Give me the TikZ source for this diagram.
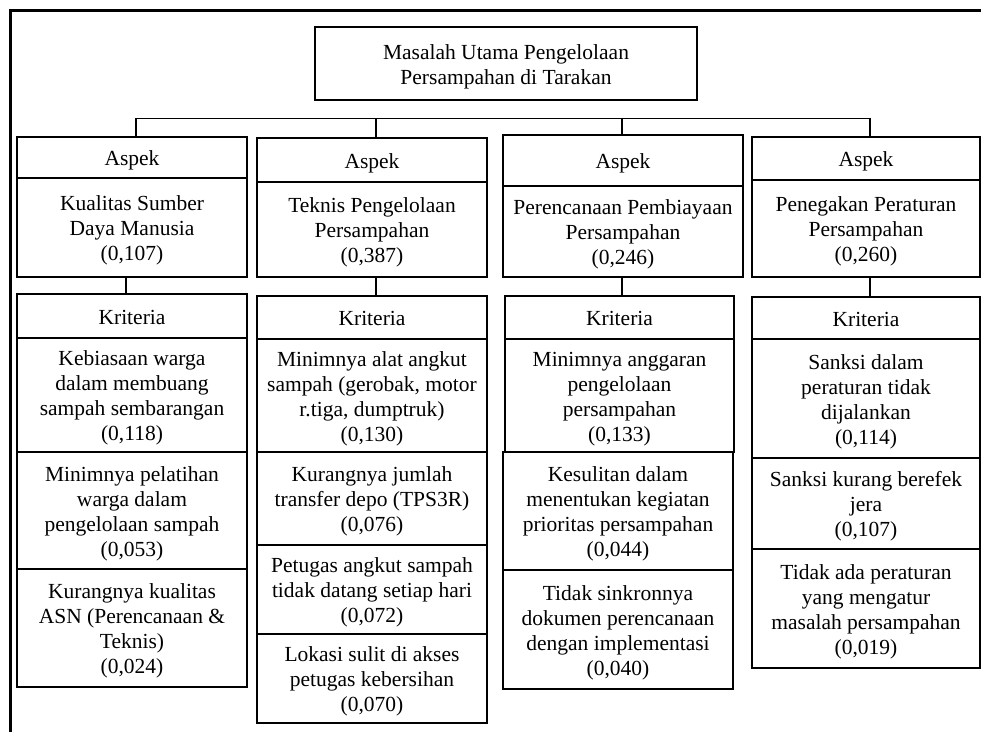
\documentclass[tikz,border=0pt]{standalone}
\usepackage{fontspec}
\setmainfont{Liberation Serif}
\newcommand\cellfont{\fontsize{21.5pt}{25pt}\selectfont}
\newcommand\tx[1]{\raisebox{-3pt}[\height][\depth]{\begin{tabular}{@{}c@{}}#1\end{tabular}}}
\tikzset{
  cell/.style={draw, line width=1.3pt, inner sep=0pt, font=\cellfont},
  link/.style={line width=1.3pt},
  frame/.style={line width=3pt}
}
\newcommand\cellbox[6]{\node[cell, minimum width={#4pt-#2pt}, minimum height={#5pt-#3pt}] (#1) at ({(#2+#4)/2},{(#3+#5)/2}) {\tx{#6}};}
\begin{document}
\begin{tikzpicture}[x=1pt,y=-1pt]
\useasboundingbox (0,0) rectangle (981,732);
% frame (top and left edges)
\coordinate (fa) at (10.5,732);
\coordinate (fb) at (10.5,10.5);
\coordinate (fc) at (981,10.5);
\draw[frame] (fa) -- (fb) -- (fc);
% title
\cellbox{title}{315}{27}{697}{100}{Masalah Utama Pengelolaan\\Persampahan di Tarakan}
% aspect boxes
\cellbox{a1h}{17}{137}{247}{178}{Aspek}
\cellbox{a1b}{17}{178}{247}{277}{Kualitas Sumber\\Daya Manusia\\(0,107)}
\cellbox{a2h}{257}{138}{487}{182}{Aspek}
\cellbox{a2b}{257}{182}{487}{277}{Teknis Pengelolaan\\Persampahan\\(0,387)}
\cellbox{a3h}{503}{135}{743}{186}{Aspek}
\cellbox{a3b}{503}{186}{743}{277}{Perencanaan Pembiayaan\\Persampahan\\(0,246)}
\cellbox{a4h}{752}{137}{980}{180}{Aspek}
\cellbox{a4b}{752}{180}{980}{277}{Penegakan Peraturan\\Persampahan\\(0,260)}
% kriteria column 1
\cellbox{k1h}{17}{294}{247}{338}{Kriteria}
\cellbox{k1a}{17}{338}{247}{452}{Kebiasaan warga\\dalam membuang\\sampah sembarangan\\(0,118)}
\cellbox{k1b}{17}{452}{247}{569}{Minimnya pelatihan\\warga dalam\\pengelolaan sampah\\(0,053)}
\cellbox{k1c}{17}{569}{247}{687}{Kurangnya kualitas\\ASN (Perencanaan \&\\Teknis)\\(0,024)}
% kriteria column 2
\cellbox{k2h}{257}{296}{487}{339}{Kriteria}
\cellbox{k2a}{257}{339}{487}{452}{Minimnya alat angkut\\sampah (gerobak, motor\\r.tiga, dumptruk)\\(0,130)}
\cellbox{k2b}{257}{452}{487}{545}{Kurangnya jumlah\\transfer depo (TPS3R)\\(0,076)}
\cellbox{k2c}{257}{545}{487}{634}{Petugas angkut sampah\\tidak datang setiap hari\\(0,072)}
\cellbox{k2d}{257}{634}{487}{723}{Lokasi sulit di akses\\petugas kebersihan\\(0,070)}
% kriteria column 3
\cellbox{k3h}{505}{296}{734}{339}{Kriteria}
\cellbox{k3a}{505}{339}{734}{452}{Minimnya anggaran\\pengelolaan\\persampahan\\(0,133)}
\cellbox{k3b}{503}{452}{733}{570}{Kesulitan dalam\\menentukan kegiatan\\prioritas persampahan\\(0,044)}
\cellbox{k3c}{503}{570}{733}{689}{Tidak sinkronnya\\dokumen perencanaan\\dengan implementasi\\(0,040)}
% kriteria column 4
\cellbox{k4h}{752}{297}{980}{339}{Kriteria}
\cellbox{k4a}{752}{339}{980}{458}{Sanksi dalam\\peraturan tidak\\dijalankan\\(0,114)}
\cellbox{k4b}{752}{458}{980}{549}{Sanksi kurang berefek\\jera\\(0,107)}
\cellbox{k4c}{752}{549}{980}{668}{Tidak ada peraturan\\yang mengatur\\masalah persampahan\\(0,019)}
% connector bar to aspects
\coordinate (j1) at (136,118.5);
\coordinate (j2) at (376,118.5);
\coordinate (j3) at (622,118.5);
\coordinate (j4) at (870,118.5);
\draw[link] (a1h.north -| j1) -- (j1) -- (j4) -- (a4h.north -| j4);
\draw[link] (j2) -- (a2h.north -| j2);
\draw[link] (j3) -- (a3h.north -| j3);
% aspect to kriteria
\coordinate (v1) at (126,0);
\coordinate (v2) at (376,0);
\coordinate (v3) at (622,0);
\coordinate (v4) at (870,0);
\draw[link] (a1b.south -| v1) -- (k1h.north -| v1);
\draw[link] (a2b.south -| v2) -- (k2h.north -| v2);
\draw[link] (a3b.south -| v3) -- (k3h.north -| v3);
\draw[link] (a4b.south -| v4) -- (k4h.north -| v4);
\end{tikzpicture}
\end{document}
